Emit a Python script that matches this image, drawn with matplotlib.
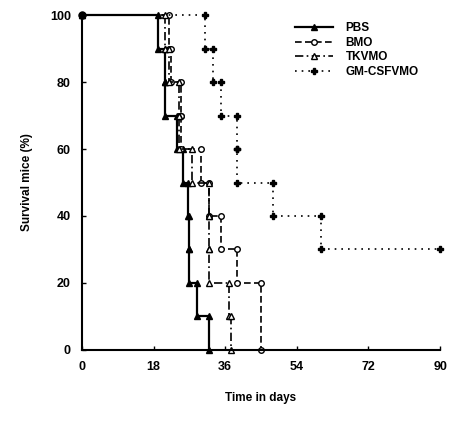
import matplotlib
matplotlib.use("Agg")
import matplotlib.pyplot as plt

plt.rcParams["font.family"] = ["Liberation Sans", "DejaVu Sans"]
plt.rcParams["font.weight"] = "bold"

# survival steps: day of change and % surviving after it
pbs_days = [0, 19, 21, 21, 24, 25.4, 26.6, 27, 27, 29, 32]
pbs_surv = [100, 90, 80, 70, 60, 50, 40, 30, 20, 10, 0]

bmo_days = [0, 22, 22.5, 25, 25, 30, 32, 35, 39, 45]
bmo_surv = [100, 90, 80, 70, 60, 50, 40, 30, 20, 0]

tk_days = [0, 21, 22, 24.5, 24.5, 27.7, 32, 32, 32, 37, 37.5]
tk_surv = [100, 90, 80, 70, 60, 50, 40, 30, 20, 10, 0]

gm_days = [0, 31, 33, 35, 39, 39, 48, 60, 90]
gm_surv = [100, 90, 80, 70, 60, 50, 40, 30, 30]

labels = ["PBS", "BMO", "TKVMO", "GM-CSFVMO"]
x_ticks = [0, 18, 36, 54, 72, 90]
y_ticks = [0, 20, 40, 60, 80, 100]


def corners(days, surv):
    # corner points of a Kaplan-Meier step curve
    xs, ys = [days[0]], [surv[0]]
    for i in range(1, len(days)):
        xs.append(days[i]); ys.append(surv[i - 1])
        if surv[i] != surv[i - 1]:
            xs.append(days[i]); ys.append(surv[i])
    return xs, ys


fig = plt.figure(figsize=(4.5, 4.21), dpi=100)
ax = fig.add_axes([0.182, 0.169, 0.796, 0.795])

styles = [
    dict(ls="-", lw=1.6, marker="^", mfc="black", ms=5),
    dict(ls=(0, (4, 2)), lw=1.2, marker="o", mfc="white", ms=4),
    dict(ls=(0, (5, 2, 1, 2)), lw=1.2, marker="^", mfc="white", ms=4.5),
    dict(ls=(0, (1, 3)), lw=1.2, marker="P", mfc="black", ms=5),
]
groups = [(pbs_days, pbs_surv), (bmo_days, bmo_surv),
          (tk_days, tk_surv), (gm_days, gm_surv)]

for (d, s), st, lab in zip(groups, styles, labels):
    xs, ys = corners(d, s)
    ax.plot(xs, ys, color="black", mec="black", label=lab, clip_on=False, **st)

ax.plot([0], [100], "o", color="black", ms=5, clip_on=False)

ax.set_xlim(0, 90)
ax.set_ylim(0, 100)
ax.set_xticks(x_ticks)
ax.set_yticks(y_ticks)
ax.tick_params(direction="in", length=3, width=1, labelsize=9, pad=8)
for lab in ax.get_xticklabels() + ax.get_yticklabels():
    lab.set_fontweight("bold")
for side in ["top", "right"]:
    ax.spines[side].set_visible(False)
for side in ["left", "bottom"]:
    ax.spines[side].set_linewidth(1.5)

ax.set_ylabel("Survival mice (%)", fontsize=8.5, fontweight="bold", labelpad=12)
ax.set_xlabel("Time in days", fontsize=8.5, fontweight="bold", labelpad=14)

leg = ax.legend(loc="upper left", bbox_to_anchor=(0.575, 1.0), frameon=False,
                fontsize=8.5, handlelength=3.2, handletextpad=1.1,
                labelspacing=0.22, borderaxespad=0.2)
for t in leg.get_texts():
    t.set_fontweight("bold")

fig.savefig("out.png", dpi=100, facecolor="white")
